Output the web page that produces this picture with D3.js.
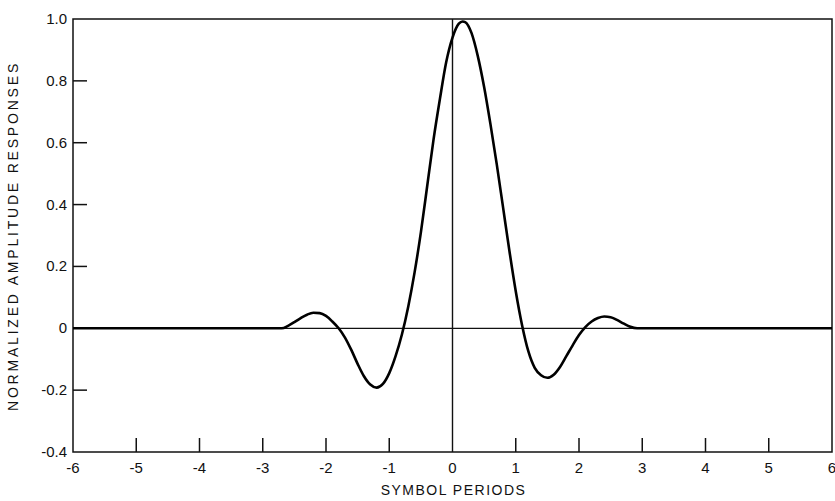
<!DOCTYPE html>
<html>
<head>
<meta charset="utf-8">
<script src="https://cdn.jsdelivr.net/npm/d3@7"></script>
<style>
  body { margin: 0; background: #fff; }
  text { font-family: "Liberation Sans", Arial, sans-serif; fill: #111; }
</style>
</head>
<body>
<div id="chart"></div>
<script>
// symbol period positions and normalized amplitude response
const periods = [-6, -2.7, -2.6, -2.5, -2.4, -2.3, -2.2, -2.1, -2.0, -1.9, -1.8, -1.7, -1.6, -1.5, -1.4, -1.3,
  -1.2, -1.1, -1.0, -0.9, -0.8, -0.7, -0.6, -0.5, -0.4, -0.3, -0.2, -0.1, 0.0, 0.1, 0.16, 0.2, 0.3, 0.4,
  0.5, 0.6, 0.7, 0.8, 0.9, 1.0, 1.1, 1.2, 1.3, 1.4, 1.5, 1.6, 1.7, 1.8, 1.9, 2.0, 2.1, 2.2, 2.3, 2.4,
  2.5, 2.6, 2.7, 2.8, 2.92, 6];
const response = [0, 0, 0.008, 0.02, 0.033, 0.044, 0.05, 0.049, 0.04, 0.022, 0.0, -0.03, -0.07, -0.115, -0.155, -0.182,
  -0.192, -0.18, -0.145, -0.09, -0.02, 0.07, 0.18, 0.31, 0.46, 0.61, 0.74, 0.86, 0.94, 0.985, 0.992, 0.99, 0.955, 0.88,
  0.78, 0.66, 0.53, 0.39, 0.25, 0.12, 0.01, -0.075, -0.128, -0.152, -0.16, -0.15, -0.125, -0.09, -0.055, -0.022, 0.004, 0.022, 0.033, 0.038,
  0.036, 0.027, 0.016, 0.006, 0, 0];
const xTicks = [-6, -5, -4, -3, -2, -1, 0, 1, 2, 3, 4, 5, 6];
const yTicks = [-0.4, -0.2, 0, 0.2, 0.4, 0.6, 0.8, 1.0];
const yTickLabels = ["-0.4", "-0.2", "0", "0.2", "0.4", "0.6", "0.8", "1.0"];

const width = 835, height = 501;
const margin = {top: 19, right: 3, bottom: 49, left: 73};

const svg = d3.select("#chart").append("svg")
  .attr("width", width)
  .attr("height", height);

const x = d3.scaleLinear().domain([-6, 6]).range([margin.left, width - margin.right]);
const y = d3.scaleLinear().domain([-0.4, 1.0]).range([height - margin.bottom, margin.top]);

// frame
svg.append("rect")
  .attr("x", x(-6)).attr("y", y(1.0))
  .attr("width", x(6) - x(-6)).attr("height", y(-0.4) - y(1.0))
  .attr("fill", "none").attr("stroke", "#111").attr("stroke-width", 1.5);

// inward ticks
svg.selectAll(".xtick").data(xTicks.filter(d => d > -6 && d < 6 && d !== 0)).join("line")
  .attr("x1", d => x(d)).attr("x2", d => x(d))
  .attr("y1", y(-0.4)).attr("y2", y(-0.4) - 14)
  .attr("stroke", "#111").attr("stroke-width", 1.5);
svg.selectAll(".ytick").data(yTicks.filter(d => d > -0.4 && d < 1.0 && d !== 0)).join("line")
  .attr("x1", x(-6)).attr("x2", x(-6) + 14)
  .attr("y1", d => y(d)).attr("y2", d => y(d))
  .attr("stroke", "#111").attr("stroke-width", 1.5);

// zero axes
svg.append("line")
  .attr("x1", x(-6)).attr("x2", x(6)).attr("y1", y(0)).attr("y2", y(0))
  .attr("stroke", "#111").attr("stroke-width", 1.2);
svg.append("line")
  .attr("x1", x(0)).attr("x2", x(0)).attr("y1", y(1.0)).attr("y2", y(-0.4))
  .attr("stroke", "#111").attr("stroke-width", 1.4);

// tick labels
svg.selectAll(".xlab").data(xTicks).join("text")
  .attr("x", d => x(d)).attr("y", y(-0.4) + 21)
  .attr("text-anchor", "middle").style("font-size", "15px")
  .text(d => d);
svg.selectAll(".ylab").data(yTicks).join("text")
  .attr("x", x(-6) - 6).attr("y", d => y(d) + 5)
  .attr("text-anchor", "end").style("font-size", "15px")
  .text((d, i) => yTickLabels[i]);

// axis titles
svg.append("text")
  .attr("x", (x(-6) + x(6)) / 2 + 1).attr("y", 495)
  .attr("text-anchor", "middle").style("font-size", "14px").style("letter-spacing", "1.5px")
  .text("SYMBOL PERIODS");
svg.append("text")
  .attr("transform", `translate(18, 236) rotate(-90)`)
  .attr("text-anchor", "middle").style("font-size", "14px").style("letter-spacing", "2.8px")
  .text("NORMALIZED AMPLITUDE RESPONSES");

// response curve
const line = d3.line()
  .x((d, i) => x(periods[i]))
  .y(d => y(d))
  .curve(d3.curveMonotoneX);
svg.append("path")
  .datum(response)
  .attr("d", line)
  .attr("fill", "none").attr("stroke", "#000").attr("stroke-width", 2.6);
</script>
</body>
</html>
